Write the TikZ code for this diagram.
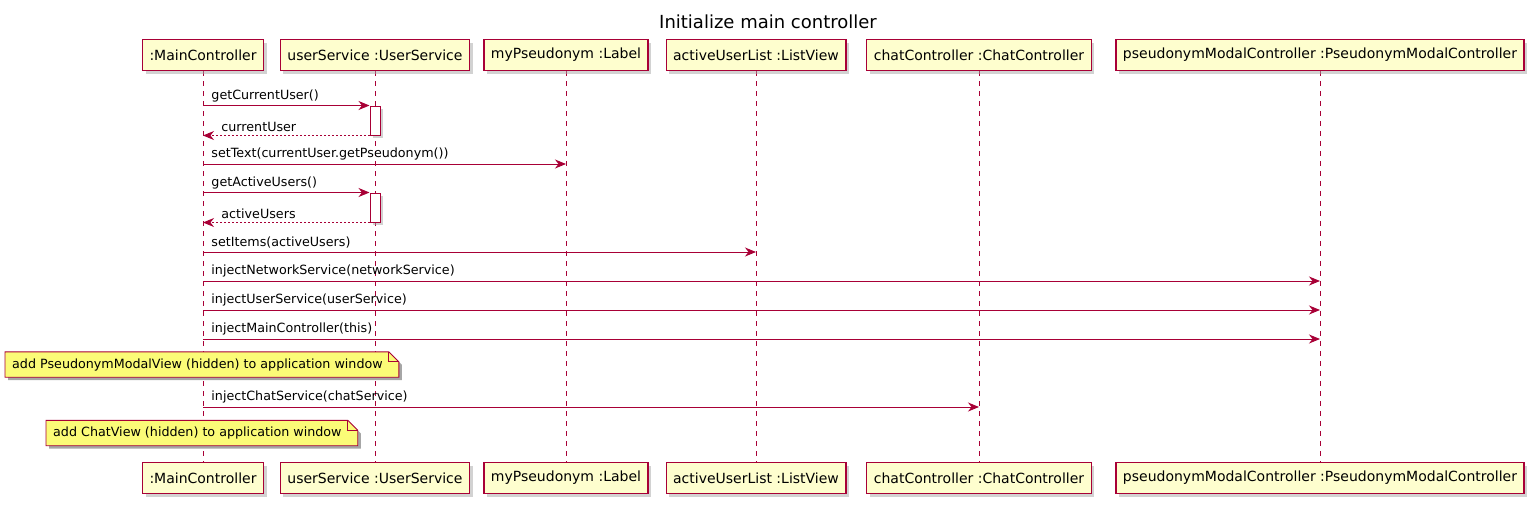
\documentclass[tikz,border=0pt]{standalone}
\usepackage{fontspec}
\setmainfont{DejaVu Sans}
\usepackage{tikz}
\usetikzlibrary{
  positioning,
  arrows.meta,
  shadows
}
\definecolor{umlborder}{HTML}{A80036}
\definecolor{umlfill}{HTML}{FEFECE}
\definecolor{notefill}{HTML}{FBFB77}
\pgfdeclarelayer{lifelines}
\pgfdeclarelayer{notebg}
\pgfsetlayers{lifelines,notebg,main}
\tikzset{
  >=Stealth,
  umlshadow/.style={drop shadow={shadow xshift=3pt,shadow yshift=-3pt,fill=black!35}},
  participant/.style={rectangle,draw=umlborder,line width=1.2pt,fill=umlfill,umlshadow,
    minimum height=31pt,inner xsep=7pt,inner ysep=0pt,font=\fontsize{14}{16}\selectfont},
  lifeline/.style={draw=umlborder,line width=0.8pt,dash pattern=on 5pt off 5pt},
  activ/.style={rectangle,draw=umlborder,line width=1pt,fill=white,umlshadow,
    minimum width=10pt,minimum height=29pt,inner sep=0pt},
  msg/.style={draw=umlborder,line width=0.9pt,-{Stealth[length=11pt,width=9pt,inset=3.5pt]}},
  retmsg/.style={msg,dash pattern=on 2pt off 2pt},
  msglbl/.style={anchor=south west,inner sep=0pt,xshift=8pt,yshift=3pt,font=\fontsize{12.7}{15}\selectfont},
  retlbl/.style={msglbl,xshift=10pt},
  umlnote/.style={anchor=west,inner xsep=7pt,inner ysep=0pt,minimum height=25pt,
    font=\fontsize{12.7}{15}\selectfont}
}
\newcommand\dognote[1]{%
  \fill[black!35] ([shift={(3pt,-3pt)}]#1.north west) -- ([shift={(-7pt,-3pt)}]#1.north east)
    -- ([shift={(3pt,-13pt)}]#1.north east) -- ([shift={(3pt,-3pt)}]#1.south east)
    -- ([shift={(3pt,-3pt)}]#1.south west) -- cycle;
  \draw[umlborder,line width=0.9pt,fill=notefill] (#1.north west) -- ([xshift=-10pt]#1.north east)
    -- ([yshift=-10pt]#1.north east) -- (#1.south east) -- (#1.south west) -- cycle;
  \draw[umlborder,line width=0.9pt] ([xshift=-10pt]#1.north east) -- ([shift={(-10pt,-10pt)}]#1.north east)
    -- ([yshift=-10pt]#1.north east);
}

\begin{document}
\begin{tikzpicture}[x=1pt,y=-1pt]
    \useasboundingbox (0,0) rectangle (1540,507);
    \node[font=\fontsize{18}{21}\selectfont] (title) at (768,22) {Initialize main controller};

    % participants, top row
    \node[participant] (mcT) at (203,55) {:MainController};
    \node[participant] (usT) at (375,55) {userService :UserService};
    \node[participant] (mpT) at (566,55) {myPseudonym :Label};
    \node[participant] (auT) at (756,55) {activeUserList :ListView};
    \node[participant] (ccT) at (979,55) {chatController :ChatController};
    \node[participant] (pmT) at (1320,55) {pseudonymModalController :PseudonymModalController};

    % participants, bottom row
    \node[participant] (mcB) at (203,478) {:MainController};
    \node[participant] (usB) at (375,478) {userService :UserService};
    \node[participant] (mpB) at (566,478) {myPseudonym :Label};
    \node[participant] (auB) at (756,478) {activeUserList :ListView};
    \node[participant] (ccB) at (979,478) {chatController :ChatController};
    \node[participant] (pmB) at (1320,478) {pseudonymModalController :PseudonymModalController};

    % lifelines
    \begin{pgfonlayer}{lifelines}
    \draw[lifeline] (mcT) -- (mcB);
    \draw[lifeline] (usT) -- (usB);
    \draw[lifeline] (mpT) -- (mpB);
    \draw[lifeline] (auT) -- (auB);
    \draw[lifeline] (ccT) -- (ccB);
    \draw[lifeline] (pmT) -- (pmB);
    \end{pgfonlayer}

    % activations
    \node[activ] (act1) at (375,120.5) {};
    \node[activ] (act2) at (375,207.5) {};

    % messages
    \draw[msg] (mcT |- act1.north) -- (act1.north west) node[pos=0,msglbl]{getCurrentUser()};
    \draw[retmsg] (act1.south west) -- (mcT |- act1.south) node[pos=1,retlbl]{currentUser};
    \draw[msg] (mcT |- 0,164) -- (mpT |- 0,164) node[pos=0,msglbl]{setText(currentUser.getPseudonym())};
    \draw[msg] (mcT |- act2.north) -- (act2.north west) node[pos=0,msglbl]{getActiveUsers()};
    \draw[retmsg] (act2.south west) -- (mcT |- act2.south) node[pos=1,retlbl]{activeUsers};
    \draw[msg] (mcT |- 0,252) -- (auT |- 0,252) node[pos=0,msglbl]{setItems(activeUsers)};
    \draw[msg] (mcT |- 0,281) -- (pmT |- 0,281) node[pos=0,msglbl]{injectNetworkService(networkService)};
    \draw[msg] (mcT |- 0,310) -- (pmT |- 0,310) node[pos=0,msglbl]{injectUserService(userService)};
    \draw[msg] (mcT |- 0,339) -- (pmT |- 0,339) node[pos=0,msglbl]{injectMainController(this)};

    % notes
    \node[umlnote] (note1) at (5,364.5) {add PseudonymModalView (hidden) to application window\hspace*{9pt}};
    \begin{pgfonlayer}{notebg}\dognote{note1}\end{pgfonlayer}

    \draw[msg] (mcT |- 0,407) -- (ccT |- 0,407) node[pos=0,msglbl]{injectChatService(chatService)};

    \node[umlnote] (note2) at (46,433) {add ChatView (hidden) to application window\hspace*{9pt}};
    \begin{pgfonlayer}{notebg}\dognote{note2}\end{pgfonlayer}
\end{tikzpicture}
\end{document}
